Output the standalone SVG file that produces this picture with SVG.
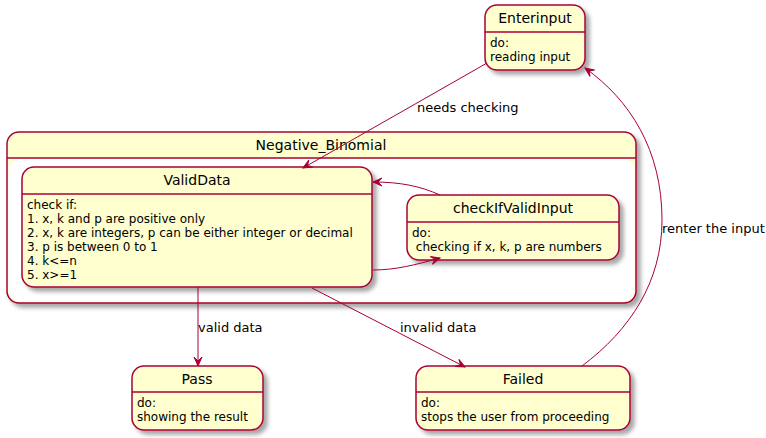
<svg xmlns="http://www.w3.org/2000/svg" width="766" height="438" viewBox="0 0 766 438">
<defs>
<filter id="sh" x="-10%" y="-10%" width="130%" height="140%">
<feGaussianBlur in="SourceAlpha" stdDeviation="2"/>
<feOffset dx="4" dy="4" result="b"/>
<feComponentTransfer><feFuncA type="linear" slope="0.35"/></feComponentTransfer>
<feMerge><feMergeNode/><feMergeNode in="SourceGraphic"/></feMerge>
</filter>
<marker id="ah" viewBox="-10 -5 11 10" refX="0" refY="0" markerWidth="11" markerHeight="10" markerUnits="userSpaceOnUse" orient="auto">
<path d="M0,0 L-9,-4 L-5,0 L-9,4 Z" fill="#A80036" stroke="#A80036" stroke-width="1"/>
</marker>
</defs>
<style>
.box{fill:#FEFECE;stroke:#A80036;stroke-width:1.5}
.sep{stroke:#A80036;stroke-width:1.5}
.t{font-family:"DejaVu Sans",sans-serif;font-size:14px;fill:#000;text-anchor:middle}
.d{font-family:"DejaVu Sans",sans-serif;font-size:12px;fill:#000}
.l{font-family:"DejaVu Sans",sans-serif;font-size:13px;fill:#000}
.e{fill:none;stroke:#A80036;stroke-width:1;marker-end:url(#ah)}
</style>
<rect width="766" height="438" fill="#FFFFFF"/>
<g id="Negative_Binomial">
<rect class="box" x="7" y="132" width="629" height="171" rx="12" filter="url(#sh)"/>
<rect x="8.5" y="159" width="626" height="142.5" rx="12" fill="#FFFFFF"/>
<line class="sep" x1="7" y1="158" x2="636" y2="158"/>
<text class="t" x="321" y="150">Negative_Binomial</text>
</g>
<g id="Enterinput">
<rect class="box" x="485" y="5" width="100" height="65" rx="12" filter="url(#sh)"/>
<line class="sep" x1="485" y1="32" x2="585" y2="32"/>
<text class="t" x="535" y="23">Enterinput</text>
<text class="d" x="490" y="47">do:</text>
<text class="d" x="490" y="61">reading input</text>
</g>
<g id="ValidData">
<rect class="box" x="22" y="167" width="350" height="120" rx="12" filter="url(#sh)"/>
<line class="sep" x1="22" y1="194" x2="372" y2="194"/>
<text class="t" x="197" y="185">ValidData</text>
<text class="d" x="27" y="209">check if:</text>
<text class="d" x="27" y="223">1. x, k and p are positive only</text>
<text class="d" x="27" y="237">2. x, k are integers, p can be either integer or decimal</text>
<text class="d" x="27" y="251">3. p is between 0 to 1</text>
<text class="d" x="27" y="265">4. k&lt;=n</text>
<text class="d" x="27" y="279">5. x&gt;=1</text>
</g>
<g id="checkIfValidInput">
<rect class="box" x="407" y="195" width="212" height="65" rx="12" filter="url(#sh)"/>
<line class="sep" x1="407" y1="222" x2="619" y2="222"/>
<text class="t" x="513" y="213">checkIfValidInput</text>
<text class="d" x="412" y="237">do:</text>
<text class="d" x="412" y="251" xml:space="preserve"> checking if x, k, p are numbers</text>
</g>
<g id="Pass">
<rect class="box" x="132" y="366" width="131" height="64" rx="12" filter="url(#sh)"/>
<line class="sep" x1="132" y1="392" x2="263" y2="392"/>
<text class="t" x="197" y="384">Pass</text>
<text class="d" x="137" y="407">do:</text>
<text class="d" x="137" y="421">showing the result</text>
</g>
<g id="Failed">
<rect class="box" x="416" y="366" width="214" height="64" rx="12" filter="url(#sh)"/>
<line class="sep" x1="416" y1="392" x2="630" y2="392"/>
<text class="t" x="523" y="384">Failed</text>
<text class="d" x="421" y="407">do:</text>
<text class="d" x="421" y="421">stops the user from proceeding</text>
</g>
<g id="connectors">
<path class="e" d="M487,63 L303,168"/>
<text class="l" x="417" y="112">needs checking</text>
<path class="e" d="M440,195 C420,186 400,182 373,182"/>
<path class="e" d="M373,270 C395,270 415,265 440,258"/>
<path class="e" d="M198,287 L198,366"/>
<text class="l" x="198" y="332">valid data</text>
<path class="e" d="M312,288 L465,367"/>
<text class="l" x="400" y="332">invalid data</text>
<path class="e" d="M582,366 C630,330 662,282 662,220 C662,150 630,100 585,68"/>
<text class="l" x="662" y="233">renter the input</text>
</g>
</svg>
